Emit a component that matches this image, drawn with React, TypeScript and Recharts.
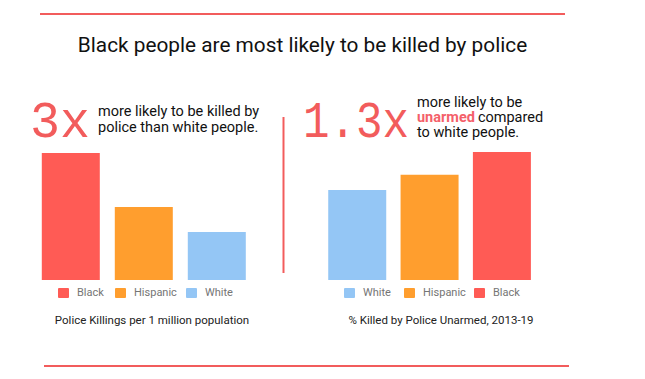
import { BarChart, Bar, Cell, XAxis, YAxis } from 'recharts'

// Police Killings per 1 million population
const killGroups = ['Black', 'Hispanic', 'White']
const killRates = [6.6, 3.8, 2.5]
const killColors = ['#FF5B55', '#FF9E2E', '#94C6F5']

// % Killed by Police Unarmed, 2013-19
const unarmedGroups = ['White', 'Hispanic', 'Black']
const unarmedPct = [13.5, 15.8, 19.2]
const unarmedColors = ['#94C6F5', '#FF9E2E', '#FF5B55']

const RED = '#F25C5C'
const FONT = 'Roboto, "Noto Sans", sans-serif'

const killData = killGroups.map((g, i) => ({ group: g, value: killRates[i] }))
const unarmedData = unarmedGroups.map((g, i) => ({ group: g, value: unarmedPct[i] }))

function Legend2({ groups, colors, left, top }: { groups: string[]; colors: string[]; left: number[]; top: number }) {
  return (
    <>
      {groups.map((g, i) => (
        <div key={g} style={{ position: 'absolute', left: left[i], top, display: 'flex', alignItems: 'center', fontFamily: FONT, fontSize: 11, color: '#757575' }}>
          <span style={{ width: 11, height: 10, background: colors[i], borderRadius: 1, marginRight: 8, display: 'inline-block' }} />
          {g}
        </div>
      ))}
    </>
  )
}

export default function App() {
  return (
    <div style={{ position: 'absolute', left: 0, top: 0, width: 645, height: 379, background: '#fff', overflow: 'hidden' }}>
      <svg width={645} height={379} style={{ position: 'absolute', left: 0, top: 0 }}>
        <line x1={40} x2={565} y1={14} y2={14} stroke={RED} strokeWidth={2} />
        <line x1={44} x2={569} y1={366} y2={366} stroke={RED} strokeWidth={2} />
        <line x1={283.5} x2={283.5} y1={117} y2={273} stroke={RED} strokeWidth={2} />
        <text x={302.5} y={52} textAnchor="middle" fontFamily={FONT} fontSize={20.8} fill="#111">
          Black people are most likely to be killed by police
        </text>
        <text x={30} y={137} fontFamily='"Liberation Mono", monospace' fontSize={52} fill={RED} textLength={60} lengthAdjust="spacingAndGlyphs">
          3x
        </text>
        <text x={303} y={137} fontFamily='"Liberation Mono", monospace' fontSize={52} fill={RED} textLength={106} lengthAdjust="spacingAndGlyphs">
          1.3x
        </text>
        <text fontFamily={FONT} fontSize={14.5} fill="#111">
          <tspan x={98} y={116}>more likely to be killed by</tspan>
          <tspan x={98} y={132}>police than white people.</tspan>
        </text>
        <text fontFamily={FONT} fontSize={14.5} fill="#111">
          <tspan x={417} y={107}>more likely to be</tspan>
          <tspan x={417} y={122} fontWeight={700} fill="#F4606A">unarmed</tspan>
          <tspan dx={3}>compared</tspan>
          <tspan x={417} y={136.5}>to white people.</tspan>
        </text>
        <text x={152} y={324} textAnchor="middle" fontFamily={FONT} fontSize={11.5} fill="#222">
          Police Killings per 1 million population
        </text>
        <text x={441} y={324} textAnchor="middle" fontFamily={FONT} fontSize={11.5} fill="#222">
          % Killed by Police Unarmed, 2013-19
        </text>
      </svg>

      <div style={{ position: 'absolute', left: 0, top: 0 }}>
        <BarChart width={290} height={379} data={killData} margin={{ top: 153, right: 36.5, bottom: 99, left: 34.5 }} barCategoryGap="10%">
          <XAxis dataKey="group" hide />
          <YAxis hide domain={[0, 'dataMax']} />
          <Bar dataKey="value" isAnimationActive={false}>
            {killData.map((d, i) => <Cell key={d.group} fill={killColors[i]} />)}
          </Bar>
        </BarChart>
      </div>
      <div style={{ position: 'absolute', left: 290, top: 0 }}>
        <BarChart width={290} height={379} data={unarmedData} margin={{ top: 152, right: 290 - 248, bottom: 99, left: 31 }} barCategoryGap="10%">
          <XAxis dataKey="group" hide />
          <YAxis hide domain={[0, 'dataMax']} />
          <Bar dataKey="value" isAnimationActive={false}>
            {unarmedData.map((d, i) => <Cell key={d.group} fill={unarmedColors[i]} />)}
          </Bar>
        </BarChart>
      </div>

      <Legend2 groups={killGroups} colors={killColors} left={[58, 115, 186]} top={286} />
      <Legend2 groups={unarmedGroups} colors={unarmedColors} left={[344, 404, 474]} top={286} />
    </div>
  )
}
